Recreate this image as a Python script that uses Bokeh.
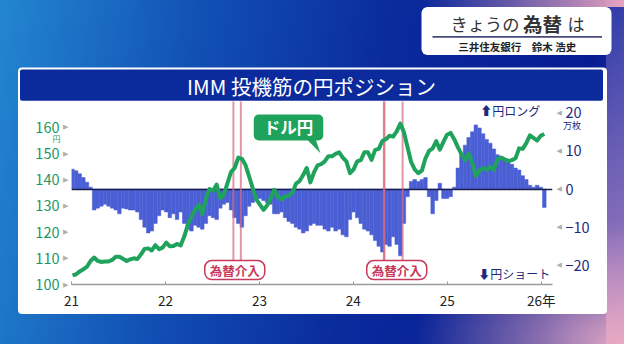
import numpy as np
import pandas as pd
from bokeh.plotting import figure
from bokeh.layouts import column
from bokeh.models import Range1d, LinearAxis, FixedTicker, Label, BoxAnnotation, ColumnDataSource
from bokeh.embed import file_html
from bokeh.resources import INLINE

# ---------------- data ----------------
START = "2021-01-05"          # first observation, then every 14 days
STEP = "14D"

USDJPY_2021 = [103.5, 103.9, 105.0, 105.8, 106.8, 109.0, 110.3, 109.0, 108.6, 108.8, 108.8, 109.4, 110.6,
               110.6, 109.8, 109.0, 109.6, 110.0, 109.7, 111.5, 113.6, 113.8, 113.0, 115.0, 113.5, 114.1]
USDJPY_2022 = [116.0, 114.6, 114.7, 115.5, 114.9, 118.3, 122.8, 126.0, 128.5, 130.4, 127.0, 132.6, 136.5,
               135.8, 138.2, 133.0, 134.3, 138.7, 143.0, 144.5, 148.5, 148.0, 145.6, 141.3, 136.8, 132.5]
USDJPY_2023 = [130.5, 128.5, 130.2, 133.0, 136.2, 133.5, 132.5, 133.6, 134.0, 135.0, 138.5, 139.5, 141.8,
               144.5, 139.0, 142.8, 145.5, 146.0, 147.0, 149.0, 149.0, 149.9, 150.5, 148.5, 147.0, 142.5]
USDJPY_2024 = [144.0, 147.0, 147.5, 150.5, 150.5, 147.6, 151.4, 151.8, 154.8, 155.5, 156.8, 156.5, 158.5,
               161.5, 158.2, 152.5, 146.8, 144.0, 142.5, 143.5, 148.2, 151.0, 152.0, 154.8, 151.5, 154.5]
USDJPY_2025 = [157.2, 157.9, 155.5, 152.5, 149.8, 147.5, 150.0, 146.5, 141.5, 143.5, 144.5, 143.8, 145.0,
               143.8, 147.8, 148.5, 147.8, 147.2, 147.5, 148.2, 152.0, 151.8, 154.0, 157.0, 156.0, 155.0]
USDJPY_2026 = [156.8, 157.5]

# IMM speculative net yen position (10k contracts, 万枚)
NET_2021 = [5.2, 4.8, 4.0, 3.0, 1.8, 0.5, -5.5, -5.0, -4.5, -4.0, -4.5, -5.0, -5.5,
            -6.5, -5.0, -5.2, -5.5, -5.5, -6.0, -8.0, -10.0, -11.5, -11.0, -9.0, -7.0, -5.5]
NET_2022 = [-6.0, -7.5, -6.5, -8.0, -6.0, -9.0, -10.5, -11.0, -9.5, -10.0, -10.5, -9.0, -7.0,
            -7.5, -8.0, -5.0, -4.0, -3.5, -5.5, -7.5, -9.0, -10.0, -7.0, -4.5, -3.5, -3.0]
NET_2023 = [-2.5, -3.0, -3.5, -4.0, -6.5, -6.5, -6.0, -7.5, -8.5, -9.0, -10.0, -10.5, -11.5,
            -11.0, -9.5, -9.0, -9.5, -9.5, -10.5, -11.0, -10.0, -11.0, -10.5, -12.0, -12.5, -8.0]
NET_2024 = [-6.0, -7.5, -9.0, -10.5, -11.0, -12.0, -13.5, -15.0, -16.5, -14.5, -15.0, -12.5, -14.5,
            -17.5, -9.0, -2.0, 2.0, 2.5, 2.0, 2.5, 3.0, -2.0, -6.5, -3.0, 1.5, -2.5]
NET_2025 = [-2.5, -2.0, 0.5, 5.5, 9.0, 11.5, 13.5, 15.0, 16.8, 16.0, 14.5, 13.0, 12.0,
            10.5, 9.0, 8.5, 7.5, 7.5, 6.5, 5.5, 5.0, 3.5, 2.5, 1.0, 0.5, 1.0]
NET_2026 = [0.5, -4.8]

INTERVENTIONS = ["2022-09-22", "2022-10-21", "2024-04-29", "2024-05-01", "2024-07-11"]

YEAR_TICKS = [2021, 2022, 2023, 2024, 2025, 2026]
YEAR_LABELS = ["21", "22", "23", "24", "25", "26年"]
LEFT_TICKS = [100, 110, 120, 130, 140, 150, 160]
RIGHT_TICKS = [-20, -10, 0, 10, 20]
RIGHT_LABELS = ["−20", "−10", "0", "10", "20"]

usdjpy = USDJPY_2021 + USDJPY_2022 + USDJPY_2023 + USDJPY_2024 + USDJPY_2025 + USDJPY_2026
net = NET_2021 + NET_2022 + NET_2023 + NET_2024 + NET_2025 + NET_2026


def decimal_year(ts):
    ts = pd.DatetimeIndex(ts)
    days = np.where(ts.is_leap_year, 366.0, 365.0)
    return np.asarray(ts.year + (ts.dayofyear - 1) / days, dtype=float)


t = decimal_year(pd.date_range(START, periods=len(usdjpy), freq=STEP))
t_iv = decimal_year(pd.to_datetime(INTERVENTIONS))
BAR_W = 14 / 365.25

# ---------------- style ----------------
FONT = "Noto Sans CJK JP"
GREEN = "#1fa35c"
BAR = "#4b5fd4"
NAVY = "#1e2a7c"
LEFT_TXT = "#1c9763"
RED = "#c73a5c"
BANNER = "#0b2a9c"
W, H = 624, 344

# ---------- background layer (decoration, canvas pixel coordinates) ----------
bg = figure(width=W, height=H, output_backend="svg", toolbar_location=None,
            x_range=Range1d(0, W), y_range=Range1d(H, 0),
            x_axis_location=None, y_axis_location=None, min_border=0,
            min_border_left=0, min_border_right=0, min_border_top=0, min_border_bottom=0)
bg.grid.visible = False
bg.outline_line_color = None
bg.border_fill_color = None
bg.background_fill_color = None
bg.styles = {"background":
             "linear-gradient(90deg, rgba(120,120,210,0), rgba(238,168,192,0.95)) 421px 0px / 203px 7px no-repeat,"
             "radial-gradient(210px 120px at 100% 100%, rgba(236,172,196,0.95), rgba(200,150,205,0) 100%),"
             "linear-gradient(180deg, rgba(110,110,205,0.35) 0%, rgba(205,150,200,0.8) 100%) 606px 0px / 18px 344px no-repeat,"
             "linear-gradient(100deg, #2386d0 0%, #1150b4 30%, #0a2a9c 58%, #071c92 88%, #2c3aa4 100%)"}


def box(l, r, tp, bt, color, radius=0):
    bg.add_layout(BoxAnnotation(left=l, right=r, top=tp, bottom=bt, fill_color=color, fill_alpha=1,
                                line_color=None, border_radius=radius, level="underlay"))


box(17.5, 606.5, 67, 313.5, "white", 4)        # chart panel
box(19.5, 602.5, 69, 100.3, BANNER, 2)         # title banner
box(421, 611, 6.5, 54.5, "white", 6)           # header card
box(432, 601.5, 35.5, 37.2, "#454a7a")         # header rule


def blabel(x, y, text, size, color, style="normal", align="left"):
    bg.add_layout(Label(x=x, y=y, text=text, text_align=align, text_baseline="middle",
                        text_font=FONT, text_font_size=size, text_font_style=style, text_color=color))


blabel(311, 85, "IMM 投機筋の円ポジション", "20.5px", "white", align="center")
blabel(450, 23, "きょうの", "17.3px", "#333333")
blabel(522.5, 22.5, "為替", "19.5px", "#333333", style="bold")
blabel(567, 23, "は", "17px", "#333333")
blabel(516.8, 46, "三井住友銀行　鈴木 浩史", "10.5px", "#222222", style="bold", align="center")
blabel(56, 138, "円", "8px", LEFT_TXT, align="center")
blabel(562.6, 125.2, "万枚", "9px", NAVY)
blabel(479.7, 110, "⬆円ロング", "12px", NAVY)
blabel(477.8, 272.5, "⬇円ショート", "12px", NAVY)

# ---------- chart layer ----------
p = figure(width=W, height=H, output_backend="svg", toolbar_location=None,
           x_range=Range1d(2021.0, 2026.12), y_range=Range1d(100, 169.9),
           x_axis_location=None, y_axis_location=None,
           min_border_left=71, min_border_right=72, min_border_top=101, min_border_bottom=60,
           margin=(-H, 0, 0, 0))
p.extra_y_ranges = {"pos": Range1d(-25, 22.93)}
p.grid.visible = False
p.outline_line_color = None
p.border_fill_color = None
p.background_fill_color = None

# keep the two layers independent (no frame alignment inside the column)
for fig in (bg, p):
    try:
        fig.frame_align = False
    except Exception:
        pass

xax = LinearAxis(ticker=FixedTicker(ticks=YEAR_TICKS),
                 major_label_overrides={k: v for k, v in zip(YEAR_TICKS, YEAR_LABELS)})
xax.axis_line_color = "#9a9a9a"
xax.axis_line_width = 1.5
xax.major_tick_in = 3
xax.major_tick_out = 0
xax.major_tick_line_color = "#9a9a9a"
xax.minor_tick_line_color = None
xax.major_label_text_font = FONT
xax.major_label_text_font_size = "13.5px"
xax.major_label_text_color = "#222222"
xax.major_label_standoff = 5
p.add_layout(xax, "below")


def tri_axis(ticks, glyph, standoff, rng=None):
    kw = {"y_range_name": rng} if rng else {}
    ax = LinearAxis(ticker=FixedTicker(ticks=ticks), major_label_overrides={k: glyph for k in ticks}, **kw)
    ax.axis_line_color = None
    ax.major_tick_line_color = None
    ax.minor_tick_line_color = None
    ax.major_tick_in = 0
    ax.major_tick_out = 0
    ax.major_label_text_color = "#b0b0b0"
    ax.major_label_text_font = "DejaVu Sans"
    ax.major_label_text_font_size = "7px"
    ax.major_label_standoff = standoff
    return ax


def num_axis(ticks, labels, color, rng=None):
    kw = {"y_range_name": rng} if rng else {}
    ax = LinearAxis(ticker=FixedTicker(ticks=ticks), major_label_overrides={k: v for k, v in zip(ticks, labels)}, **kw)
    ax.axis_line_color = None
    ax.major_tick_line_color = None
    ax.minor_tick_line_color = None
    ax.major_tick_in = 0
    ax.major_tick_out = 0
    ax.major_label_text_color = color
    ax.major_label_text_font = FONT
    ax.major_label_text_font_size = "14.5px"
    ax.major_label_standoff = 1
    return ax


p.add_layout(tri_axis(LEFT_TICKS, "▶", 3), "left")
p.add_layout(num_axis(LEFT_TICKS, [str(v) for v in LEFT_TICKS], LEFT_TXT), "left")
p.add_layout(tri_axis(RIGHT_TICKS, "◀", 4, "pos"), "right")
p.add_layout(num_axis(RIGHT_TICKS, RIGHT_LABELS, NAVY, "pos"), "right")

src = ColumnDataSource(dict(x=t, top=net, y=usdjpy))
p.vbar(x="x", top="top", bottom=0, width=BAR_W, source=src, y_range_name="pos",
       fill_color=BAR, line_color=BAR, line_width=0.5)
p.hspan(y=[0], line_color="#1a1f4a", line_width=1.5, y_range_name="pos")
p.segment(x0=t_iv, x1=t_iv, y0=109.1, y1=175, line_color="#d8687f", line_width=2, line_alpha=0.7)
p.line(x="x", y="y", source=src, line_color=GREEN, line_width=4, line_join="round")

# callout "ドル円"
p.patch(x=[2023.51, 2023.60, 2023.65], y=[155.3, 155.3, 150.1], fill_color=GREEN, line_color=None)
p.add_layout(Label(x=2023.31, y=160.0, text="ドル円", text_align="center", text_baseline="middle",
                   text_font=FONT, text_font_size="16.5px", text_font_style="bold", text_color="white",
                   background_fill_color=GREEN, border_radius=5, padding=(10, 1)))

for xc in (2022.738, 2024.462):
    p.add_layout(Label(x=xc, y=105.5, text="為替介入", text_align="center", text_baseline="middle",
                       text_font=FONT, text_font_size="12.5px", text_font_style="bold", text_color=RED,
                       background_fill_color="white", border_line_color=RED, border_line_width=1.5,
                       border_radius=7, padding=(5, 0)))

layout = column(bg, p)
open("out.html", "w").write(file_html(layout, INLINE))
